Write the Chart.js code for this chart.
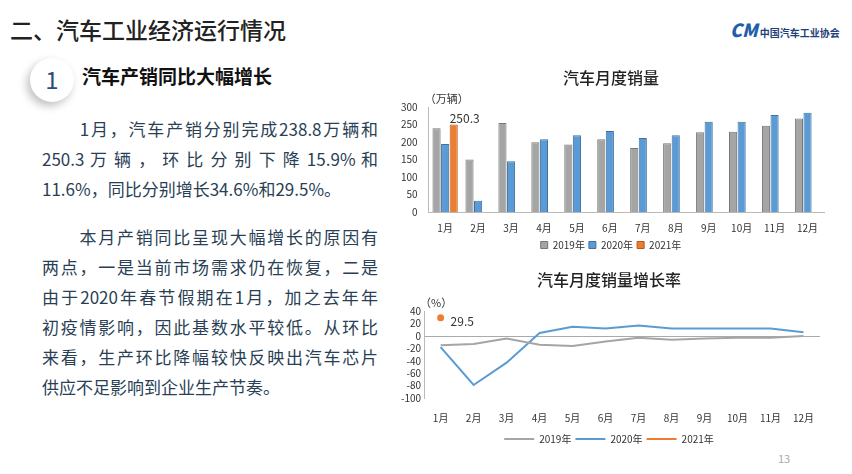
<!DOCTYPE html>
<html><head><meta charset="utf-8">
<script src="https://cdn.jsdelivr.net/npm/chart.js@4"></script>
<style>
body{margin:0;width:852px;height:474px;background:#fff;font-family:"Noto Sans CJK SC",sans-serif;position:relative;overflow:hidden}
.h{position:absolute;left:10px;top:12px;font-size:23px;color:#222;font-weight:500}
.logo{position:absolute;left:730px;top:16px;font-size:10px;color:#1f3f7a;font-weight:700}
.logo b{font-size:18px;font-style:italic;color:#1f5ea8;margin-right:2px}
.num{position:absolute;left:30px;top:58px;width:44px;height:44px;border-radius:50%;background:#fff;box-shadow:-3px 4px 8px rgba(0,0,0,.25);font-size:24px;color:#2d4e7a;text-align:center;line-height:42px}
.sub{position:absolute;left:82px;top:62px;font-size:19px;font-weight:700;color:#111}
.p{position:absolute;left:42px;width:336px;font-size:17px;color:#2a3f55;line-height:30px}
.p div{text-align:justify;text-align-last:justify;white-space:nowrap}
.p div.l{text-align-last:left}
.pg{position:absolute;left:778px;top:450px;font-size:11px;color:#aaa}
canvas{position:absolute}
</style></head><body>
<div class="h">二、汽车工业经济运行情况</div>
<div class="logo"><b>CM</b>中国汽车工业协会</div>
<div class="num">1</div>
<div class="sub">汽车产销同比大幅增长</div>
<div class="p" style="top:114px"><div>　　1月，汽车产销分别完成238.8万辆和</div><div>250.3 万 辆 ， 环 比 分 别 下 降 15.9% 和</div><div class="l">11.6%，同比分别增长34.6%和29.5%。</div></div>
<div class="p" style="top:222px"><div>　　本月产销同比呈现大幅增长的原因有</div><div>两点，一是当前市场需求仍在恢复，二是</div><div>由于2020年春节假期在1月，加之去年年</div><div>初疫情影响，因此基数水平较低。从环比</div><div>来看，生产环比降幅较快反映出汽车芯片</div><div class="l">供应不足影响到企业生产节奏。</div></div>
<div class="pg">13</div>
<div style="position:absolute;left:398px;top:68px;width:432px;height:192px"><canvas id="c1"></canvas></div>
<div style="position:absolute;left:398px;top:270px;width:432px;height:184px"><canvas id="c2"></canvas></div>
<script>
const months=['1月','2月','3月','4月','5月','6月','7月','8月','9月','10月','11月','12月'];
const sales2019=[240,150,255,200,193,208,183,197,228,230,247,268];
const sales2020=[195,32,145,208,220,232,212,220,258,258,278,284];
const sales2021=[250.3,null,null,null,null,null,null,null,null,null,null,null];
const growth2019=[-15,-13,-4,-14,-16,-9,-3,-6,-4,-3,-3,0];
const growth2020=[-18,-79,-43,5,15,12,17,12,12,12,12,6];
const growth2021=[29.5,null,null,null,null,null,null,null,null,null,null,null];
const barTicks=[0,50,100,150,200,250,300];
const F='"Noto Sans CJK SC", sans-serif';
Chart.defaults.font.family=F;Chart.defaults.color='#333';Chart.defaults.animation=false;
const unitPlugin=(txt,dy)=>({id:'u'+txt,afterDraw(c){const x=c.ctx,a=c.chartArea;x.save();x.font='11px '+F;x.fillStyle='#333';x.fillText(txt,a.left-4,a.top-dy);x.restore();}});
const lbl={id:'lbl',afterDatasetsDraw(c){const x=c.ctx;x.save();x.font='12px '+F;x.fillStyle='#333';
 c.data.datasets.forEach((d,i)=>{if(!d.lbl)return;const e=c.getDatasetMeta(i).data[0];x.fillText(d.lbl,e.x+d.dx,e.y+d.dy);});x.restore();}};
new Chart(document.getElementById('c1'),{type:'bar',
 data:{labels:months,datasets:[
  {label:'2019年',data:sales2019,backgroundColor:'#a5a5a5',borderColor:'#777',borderWidth:1},
  {label:'2020年',data:sales2020,backgroundColor:'#5b9bd5',borderColor:'#41719c',borderWidth:1},
  {label:'2021年',data:sales2021,backgroundColor:'#ed7d31',borderColor:'#ae5a21',borderWidth:1,lbl:'250.3',dx:-4,dy:-6}]},
 options:{responsive:true,maintainAspectRatio:false,layout:{padding:{top:0,right:6}},
  datasets:{bar:{categoryPercentage:0.78,barPercentage:0.95,skipNull:false}},
  plugins:{title:{display:true,text:'汽车月度销量',font:{size:16,weight:'500'},color:'#222',padding:{top:0,bottom:20}},
   legend:{position:'bottom',labels:{boxWidth:7,boxHeight:7,font:{size:10},padding:4}},tooltip:{enabled:false}},
  scales:{x:{grid:{display:false},border:{color:'#bbb'},ticks:{font:{size:10},color:'#333',padding:2}},
   y:{min:0,max:300,afterBuildTicks:a=>{a.ticks=barTicks.map(v=>({value:v}));},grid:{display:false},border:{color:'#bbb'},ticks:{font:{size:10},color:'#333'}}}},
 plugins:[unitPlugin('（万辆）',8),lbl]});
new Chart(document.getElementById('c2'),{type:'line',
 data:{labels:months,datasets:[
  {label:'2019年',data:growth2019,borderColor:'#a5a5a5',borderWidth:2,pointRadius:0,tension:0},
  {label:'2020年',data:growth2020,borderColor:'#5b9bd5',borderWidth:2,pointRadius:0,tension:0},
  {label:'2021年',data:growth2021,borderColor:'#ed7d31',backgroundColor:'#ed7d31',borderWidth:2,pointRadius:2.5,lbl:'29.5',dx:10,dy:4}]},
 options:{responsive:true,maintainAspectRatio:false,layout:{padding:{right:10}},
  plugins:{title:{display:true,text:'汽车月度销量增长率',font:{size:16,weight:'500'},color:'#222',padding:{top:0,bottom:22}},
   legend:{position:'bottom',labels:{usePointStyle:true,pointStyle:'line',pointStyleWidth:30,font:{size:10},padding:4}},tooltip:{enabled:false}},
  scales:{x:{offset:true,grid:{display:false},border:{display:false},ticks:{font:{size:10},color:'#333',padding:6}},
   y:{min:-100,max:40,ticks:{stepSize:20,autoSkip:false,font:{size:10},color:'#333'},border:{color:'#bbb'},
    grid:{drawTicks:false,color:c=>c.tick&&c.tick.value===0?'#aaa':'transparent'}}}},
 plugins:[unitPlugin('（%）',8),lbl]});
</script></body></html>
